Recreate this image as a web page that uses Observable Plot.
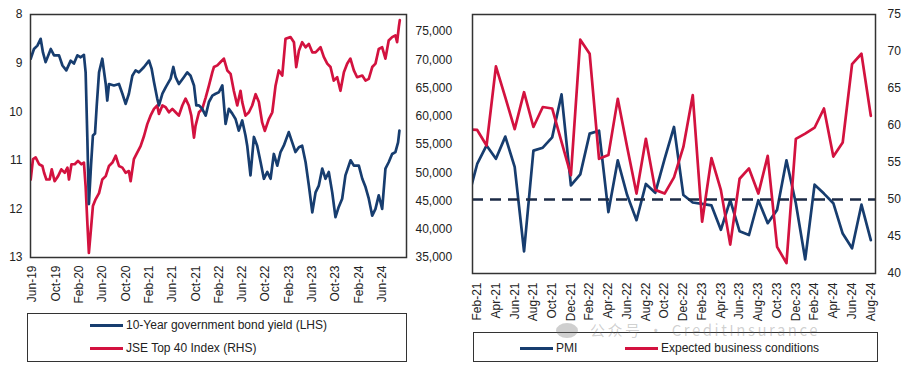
<!DOCTYPE html>
<html>
<head>
<meta charset="utf-8">
<script src="https://cdn.jsdelivr.net/npm/d3@7"></script>
<script src="https://cdn.jsdelivr.net/npm/@observablehq/plot@0.6"></script>
<style>
  html, body { margin: 0; padding: 0; background: #fff; }
  #wrap { position: relative; width: 909px; height: 369px; overflow: hidden; background: #fff;
          font-family: "Liberation Sans", Arial, sans-serif; color: #222; }
  #wrap svg { position: absolute; top: 0; }
  .legend { position: absolute; box-sizing: border-box; border: 1.5px solid #333; background: transparent; }
  .item { position: absolute; font-size: 12px; line-height: 14px; white-space: nowrap; display: flex; align-items: center; }
  .sw { display: inline-block; width: 33px; height: 3px; margin-right: 3px; }
  .wm { position: absolute; font-family: "Noto Sans CJK SC", "Liberation Sans", sans-serif; font-size: 15px; line-height: 15px;
        height: 15px; color: rgba(110,110,110,0.33); white-space: nowrap; letter-spacing: 2.5px; }
</style>
</head>
<body>
<div id="wrap"></div>
<script>
// ---------- Left panel data: 10-Year government bond yield (LHS, %) ----------
const bondDates = ["2019-05-23","2019-06-09","2019-06-27","2019-07-14","2019-07-26","2019-08-09","2019-09-05","2019-09-22","2019-10-18","2019-11-05","2019-11-25","2019-12-18","2020-01-04","2020-01-22","2020-02-08","2020-02-25","2020-03-05","2020-03-14","2020-03-22","2020-04-02","2020-04-12","2020-04-23","2020-05-02","2020-05-14","2020-05-31","2020-06-18","2020-06-26","2020-07-05","2020-07-31","2020-08-26","2020-09-13","2020-09-30","2020-10-17","2020-11-04","2020-11-21","2020-12-08","2021-01-04","2021-01-30","2021-02-13","2021-02-25","2021-03-14","2021-03-23","2021-04-10","2021-04-27","2021-05-23","2021-06-06","2021-06-18","2021-07-05","2021-07-31","2021-08-18","2021-09-04","2021-09-22","2021-10-04","2021-10-18","2021-11-04","2021-11-22","2021-12-09","2021-12-27","2022-01-13","2022-01-30","2022-02-17","2022-03-06","2022-03-23","2022-04-10","2022-04-27","2022-05-14","2022-06-01","2022-06-18","2022-06-27","2022-07-14","2022-08-01","2022-08-18","2022-09-05","2022-09-22","2022-10-10","2022-10-27","2022-11-13","2022-12-01","2022-12-18","2023-01-04","2023-01-30","2023-02-17","2023-03-06","2023-03-24","2023-04-10","2023-04-28","2023-05-15","2023-06-02","2023-06-19","2023-07-06","2023-07-24","2023-08-10","2023-08-27","2023-09-14","2023-10-01","2023-10-18","2023-11-05","2023-11-22","2023-12-19","2024-01-05","2024-01-31","2024-02-18","2024-03-06","2024-03-23","2024-04-10","2024-04-27","2024-05-14","2024-06-01","2024-06-18","2024-07-05","2024-07-23","2024-08-09","2024-08-23","2024-08-30"];
const bondYield = [8.91,8.71,8.64,8.50,8.78,8.98,8.71,8.84,8.84,9.05,9.15,8.95,9.01,8.84,8.88,8.83,9.19,10.56,11.90,11.11,10.49,10.45,9.87,9.19,8.91,9.43,9.77,9.43,9.46,9.43,9.63,9.84,9.63,9.26,9.15,9.19,9.08,8.95,9.12,9.39,9.73,9.87,9.63,9.50,9.32,9.08,9.29,9.43,9.29,9.19,9.26,9.46,9.87,9.87,9.94,10.08,9.80,9.67,9.63,9.60,9.46,10.25,9.94,10.04,10.15,10.39,10.18,10.49,10.70,11.31,10.52,10.70,11.04,11.38,11.24,11.38,10.87,11.11,10.83,10.70,10.42,10.63,10.83,10.73,10.70,11.04,11.52,12.07,11.66,11.52,11.17,11.38,11.24,11.66,12.17,11.96,11.79,11.31,11.00,11.11,11.11,11.38,11.55,11.79,12.14,12.00,11.72,12.00,11.17,11.04,10.87,10.83,10.63,10.39];

// ---------- Left panel data: JSE Top 40 Index (RHS) ----------
const jseDates = ["2019-05-23","2019-06-04","2019-06-18","2019-07-06","2019-07-23","2019-08-01","2019-08-13","2019-08-30","2019-09-10","2019-09-25","2019-10-13","2019-10-30","2019-11-17","2019-12-01","2019-12-09","2019-12-22","2020-01-08","2020-01-25","2020-02-12","2020-02-25","2020-03-05","2020-03-14","2020-03-22","2020-03-31","2020-04-12","2020-04-26","2020-05-14","2020-05-31","2020-06-18","2020-07-05","2020-07-23","2020-08-09","2020-08-26","2020-09-13","2020-09-30","2020-10-17","2020-10-26","2020-11-12","2020-11-30","2020-12-17","2021-01-04","2021-01-21","2021-02-07","2021-02-25","2021-03-14","2021-03-23","2021-04-10","2021-04-27","2021-05-14","2021-06-01","2021-06-18","2021-07-05","2021-07-23","2021-08-09","2021-08-26","2021-09-08","2021-09-22","2021-09-30","2021-10-18","2021-11-04","2021-11-22","2021-12-09","2021-12-27","2022-01-04","2022-01-22","2022-02-08","2022-02-25","2022-03-15","2022-04-01","2022-04-18","2022-05-06","2022-05-23","2022-06-01","2022-06-18","2022-07-06","2022-07-23","2022-08-10","2022-08-27","2022-09-13","2022-09-27","2022-10-18","2022-11-05","2022-11-22","2022-12-09","2022-12-27","2023-01-13","2023-02-08","2023-02-26","2023-03-10","2023-03-24","2023-04-10","2023-04-28","2023-05-15","2023-06-02","2023-06-19","2023-07-15","2023-08-01","2023-08-19","2023-09-05","2023-09-22","2023-10-10","2023-10-27","2023-11-14","2023-12-01","2023-12-18","2024-01-05","2024-01-22","2024-02-18","2024-03-06","2024-03-23","2024-04-10","2024-04-27","2024-05-14","2024-06-01","2024-06-18","2024-07-05","2024-07-23","2024-08-09","2024-08-18","2024-08-27","2024-09-01"];
const jseIndex = [48800,52400,52700,51500,51200,50000,48800,48800,50600,48500,49400,50600,50000,50900,48800,51500,51500,52100,51500,51800,47600,41100,35800,39300,44100,45300,46400,48800,49400,51200,51800,53000,51200,50900,50000,50300,48500,52400,53600,54700,56500,58600,60100,61300,61900,60400,61900,61600,60700,61300,60700,60100,61900,63100,61900,60100,56200,58300,60700,61300,63300,65400,67800,68700,69000,69600,70200,68100,67500,64500,61900,64500,62500,60100,60700,61900,63900,62500,58900,57400,59500,60700,65400,68100,67200,73700,74000,73100,68700,71600,73100,72200,72800,71300,71300,72200,70500,69300,68700,66300,66900,64500,67800,69300,70200,68100,66900,67200,66300,66600,68700,69300,71900,72200,70200,73400,74000,74300,73100,75800,77000];

const leftYTicks = [8, 9, 10, 11, 12, 13];
const jseTicks = [35000, 40000, 45000, 50000, 55000, 60000, 65000, 70000, 75000];
const leftXTicks = ["2019-06-01","2019-10-01","2020-02-01","2020-06-01","2020-10-01","2021-02-01","2021-06-01","2021-10-01","2022-02-01","2022-06-01","2022-10-01","2023-02-01","2023-06-01","2023-10-01","2024-02-01","2024-06-01"];

// ---------- Right panel data (monthly, Jan-21 .. Aug-24; Jan-21 lies left of the axis) ----------
const months = ["Jan-21","Feb-21","Mar-21","Apr-21","May-21","Jun-21","Jul-21","Aug-21","Sep-21","Oct-21","Nov-21","Dec-21","Jan-22","Feb-22","Mar-22","Apr-22","May-22","Jun-22","Jul-22","Aug-22","Sep-22","Oct-22","Nov-22","Dec-22","Jan-23","Feb-23","Mar-23","Apr-23","May-23","Jun-23","Jul-23","Aug-23","Sep-23","Oct-23","Nov-23","Dec-23","Jan-24","Feb-24","Mar-24","Apr-24","May-24","Jun-24","Jul-24","Aug-24"];
const pmi = [50.0,54.8,57.3,55.5,58.5,54.4,43.0,56.6,57.0,58.4,64.2,51.9,53.4,58.9,59.3,48.3,55.3,50.6,47.2,52.1,50.9,55.5,59.8,50.6,49.6,49.4,49.2,45.9,49.9,45.7,45.2,49.9,46.8,48.6,55.3,49.5,41.9,52.0,50.8,49.5,45.4,43.4,49.3,44.5];
const expectedConditions = [59.5,59.4,57.3,68.0,63.8,59.5,64.5,59.8,62.5,62.3,57.8,53.3,71.6,69.7,55.5,56.0,63.6,57.1,50.8,58.2,51.3,50.8,53.0,57.1,64.1,47.0,55.6,51.3,43.9,52.8,54.2,50.8,55.9,43.6,41.4,58.2,58.9,59.7,62.3,55.8,57.7,68.3,69.7,61.3];
const rightYTicks = [40, 45, 50, 55, 60, 65, 70, 75];
const threshold = 50;

// ---------- styles ----------
const BLUE = "#173d6f";
const RED = "#d3123f";
const FONT = "'Liberation Sans', Arial, sans-serif";

const wrap = document.getElementById("wrap");

// left panel: JSE mapped onto the inverted yield axis
const jseMin = 35000, jseMax = 78000, yTop = 8, yBottom = 13;
const jseToY = v => yBottom - (v - jseMin) / (jseMax - jseMin) * (yBottom - yTop);
const yToJse = y => jseMin + (yBottom - y) / (yBottom - yTop) * (jseMax - jseMin);
const fmtJse = d3.format(",.0f");

const bond = bondDates.map((d, i) => ({date: new Date(d), value: bondYield[i]}));
const jse = jseDates.map((d, i) => ({date: new Date(d), value: jseIndex[i]}));

const left = Plot.plot({
  width: 460, height: 310,
  marginLeft: 30, marginRight: 54, marginTop: 14, marginBottom: 53,
  style: {fontFamily: FONT, fontSize: "12px", color: "#222", background: "transparent", overflow: "visible"},
  x: {type: "utc", domain: [new Date("2019-05-22"), new Date("2024-10-06")]},
  y: {domain: [yTop, yBottom], reverse: true},
  marks: [
    Plot.axisY(leftYTicks, {anchor: "left", tickSize: 0, tickPadding: 8, label: null}),
    Plot.axisY(jseTicks.map(jseToY), {anchor: "right", tickSize: 0, tickPadding: 9, label: null,
      tickFormat: v => fmtJse(Math.round(yToJse(v)))}),
    Plot.axisX(leftXTicks.map(d => new Date(d)), {tickRotate: -90, tickSize: 0, tickPadding: 8, label: null,
      tickFormat: d3.utcFormat("%b-%y")}),
    Plot.line(jse, {x: "date", y: d => jseToY(d.value), stroke: RED, strokeWidth: 2.7, clip: true}),
    Plot.line(bond, {x: "date", y: "value", stroke: BLUE, strokeWidth: 2.7, clip: true}),
    Plot.frame({stroke: "#333", strokeWidth: 1.5})
  ]
});
left.style.left = "0px";
wrap.appendChild(left);

// right panel
const pmiData = months.map((m, i) => ({i: i - 1, v: pmi[i]}));
const ebcData = months.map((m, i) => ({i: i - 1, v: expectedConditions[i]}));
const right = Plot.plot({
  width: 449, height: 330,
  marginLeft: 12, marginRight: 34, marginTop: 14, marginBottom: 57,
  style: {fontFamily: FONT, fontSize: "12px", color: "#222", background: "transparent", overflow: "visible"},
  x: {domain: [-0.5, months.length - 1.5]},
  y: {domain: [40, 75]},
  marks: [
    Plot.axisY(rightYTicks, {anchor: "right", tickSize: 0, tickPadding: 12, label: null}),
    Plot.axisX(d3.range(0, months.length - 1, 2), {tickRotate: -90, tickSize: 0, tickPadding: 9, label: null,
      tickFormat: i => months[i + 1]}),
    Plot.line(pmiData, {x: "i", y: "v", stroke: BLUE, strokeWidth: 2.7, clip: true}),
    Plot.line(ebcData, {x: "i", y: "v", stroke: RED, strokeWidth: 2.7, clip: true}),
    Plot.ruleY([threshold], {stroke: "#1b2a45", strokeWidth: 2.5, strokeDasharray: "11,7"}),
    Plot.frame({stroke: "#333", strokeWidth: 1.5})
  ]
});
right.style.left = "460px";
wrap.appendChild(right);

// legends
function legend(x, y, w, h, items) {
  const box = document.createElement("div");
  box.className = "legend";
  Object.assign(box.style, {left: x + "px", top: y + "px", width: w + "px", height: h + "px"});
  wrap.appendChild(box);
  for (const it of items) {
    const el = document.createElement("div");
    el.className = "item";
    el.style.left = it.x + "px";
    el.style.top = (it.y - 7) + "px";
    el.innerHTML = `<span class="sw" style="background:${it.color}"></span><span>${it.label}</span>`;
    wrap.appendChild(el);
  }
}
legend(27, 313, 380, 49, [
  {x: 90, y: 325, color: BLUE, label: "10-Year government bond yield (LHS)"},
  {x: 90, y: 348, color: RED, label: "JSE Top 40 Index (RHS)"}
]);
legend(473, 332, 405, 30, [
  {x: 520, y: 348, color: BLUE, label: "PMI"},
  {x: 625, y: 348, color: RED, label: "Expected business conditions"}
]);

// watermark
const wm = document.createElement("div");
wm.className = "wm";
wm.style.left = "556px";
wm.style.top = "322px";
wm.innerHTML = `<span style="display:inline-block;width:22px;height:15px;border-radius:50%;background:rgba(110,110,110,0.33);vertical-align:-2px;margin-right:12px"></span>公众号 · CreditInsurance`;
wrap.appendChild(wm);
</script>
</body>
</html>
